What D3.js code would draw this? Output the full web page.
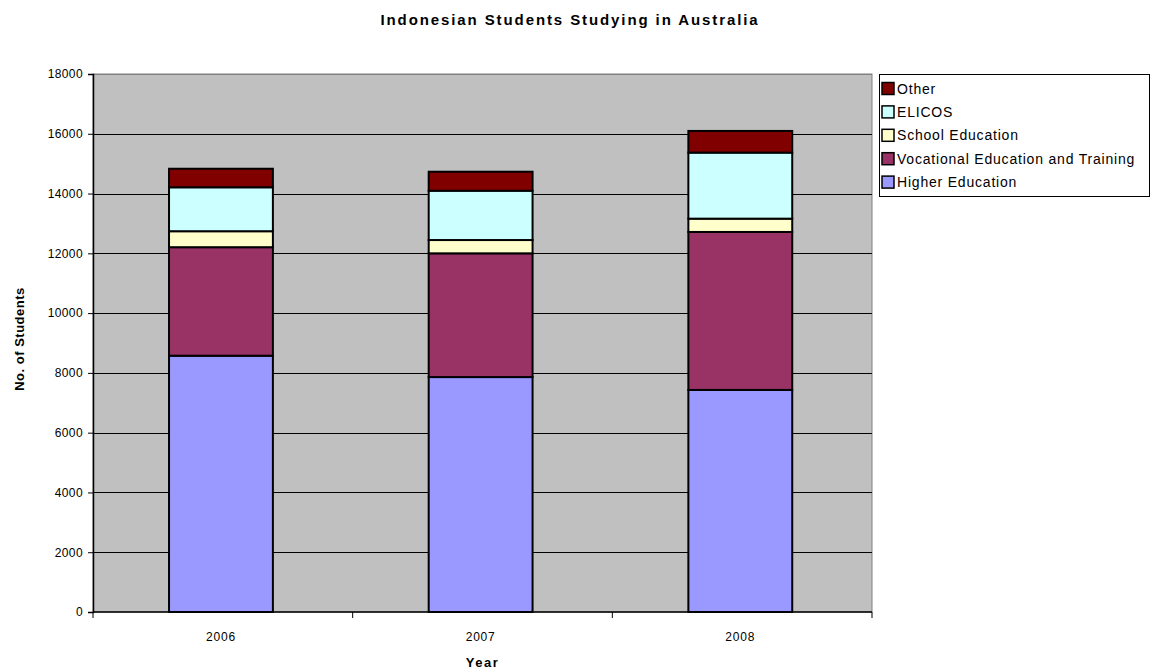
<!DOCTYPE html>
<html>
  <head>
    <meta charset="utf-8">
    <script src="https://d3js.org/d3.v7.min.js"></script>
    <style>
      body { margin: 0; background: #fff; }
      text { font-family: 'Liberation Sans', Arial, sans-serif; fill: #000; }
    </style>
    <title>Indonesian Students Studying in Australia</title>
  </head>
  <body>
    <svg></svg>
    <script type="text/javascript">
      const years = ['2006', '2007', '2008']
      const seriesNames = ['Higher Education', 'Vocational Education and Training', 'School Education', 'ELICOS', 'Other']
      const higherEducation = [8575, 7860, 7430]
      const vocational = [3630, 4140, 5285]
      const schoolEducation = [535, 445, 445]
      const elicos = [1470, 1650, 2210]
      const other = [620, 635, 725]
      const yTicks = [0, 2000, 4000, 6000, 8000, 10000, 12000, 14000, 16000, 18000]
      const colors = ['#9999ff', '#993366', '#ffffcc', '#ccffff', '#800000']

      const width = 1151
      const height = 670
      const margin = {top: 74, right: 279, bottom: 58, left: 93}
      const innerW = width - margin.left - margin.right
      const innerH = height - margin.top - margin.bottom

      const table = years.map((y, i) => ({
        year: y,
        'Higher Education': higherEducation[i],
        'Vocational Education and Training': vocational[i],
        'School Education': schoolEducation[i],
        'ELICOS': elicos[i],
        'Other': other[i]
      }))
      const stacked = d3.stack().keys(seriesNames)(table)

      const svg = d3.select('svg')
        .attr('width', width)
        .attr('height', height)

      const x = d3.scaleBand()
        .domain(years)
        .range([0, innerW])
        .paddingInner(0.6)
        .paddingOuter(0.3)
        .align(0.488)

      const y = d3.scaleLinear()
        .domain([0, 18000])
        .range([innerH, 0])

      const g = svg.append('g')
        .attr('transform', `translate(${margin.left},${margin.top})`)

      g.append('rect')
        .attr('width', innerW)
        .attr('height', innerH)
        .attr('fill', '#c0c0c0')
        .attr('stroke', '#808080')
        .attr('stroke-width', 1)

      g.selectAll('.grid')
        .data(yTicks.slice(1))
        .enter()
        .append('line')
          .attr('class', 'grid')
          .attr('x1', 0)
          .attr('x2', innerW)
          .attr('y1', d => Math.round(y(d)) + 0.5)
          .attr('y2', d => Math.round(y(d)) + 0.5)
          .attr('stroke', d => d === 18000 ? '#808080' : '#000')
          .attr('stroke-width', 1)

      g.selectAll('.layer')
        .data(stacked)
        .enter()
        .append('g')
          .attr('class', 'layer')
          .attr('fill', (d, i) => colors[i])
        .selectAll('rect')
        .data(d => d)
        .enter()
        .append('rect')
          .attr('x', d => x(d.data.year))
          .attr('y', d => y(d[1]))
          .attr('width', x.bandwidth())
          .attr('height', d => y(d[0]) - y(d[1]))
          .attr('stroke', '#000')
          .attr('stroke-width', 2)

      // y axis
      const yAxis = g.append('g')
        .call(d3.axisLeft(y).tickValues(yTicks).tickSize(5).tickPadding(5).tickFormat(d3.format('d')))
      yAxis.select('.domain').attr('stroke', '#000').attr('stroke-width', 1.5)
      yAxis.selectAll('text')
        .style('font-size', '12px')
        .style('letter-spacing', '0.4px')
        .attr('font-family', 'Liberation Sans, Arial, sans-serif')

      // x axis, ticks sit between the categories
      const xAxis = g.append('g')
        .attr('transform', `translate(0,${innerH})`)
      xAxis.append('line')
        .attr('x1', 0).attr('x2', innerW)
        .attr('y1', 0).attr('y2', 0)
        .attr('stroke', '#000').attr('stroke-width', 1.5)
      const step = innerW / years.length
      xAxis.selectAll('.xtick')
        .data(d3.range(years.length + 1))
        .enter()
        .append('line')
          .attr('class', 'xtick')
          .attr('x1', d => d * step).attr('x2', d => d * step)
          .attr('y1', 0).attr('y2', 6)
          .attr('stroke', '#000')
      xAxis.selectAll('.xlabel')
        .data(years)
        .enter()
        .append('text')
          .attr('class', 'xlabel')
          .attr('x', d => x(d) + x.bandwidth() / 2)
          .attr('y', 29)
          .attr('text-anchor', 'middle')
          .style('font-size', '12px')
          .style('letter-spacing', '0.8px')
          .text(d => d)

      // titles
      svg.append('text')
        .attr('x', 570)
        .attr('y', 25)
        .attr('text-anchor', 'middle')
        .style('font-size', '15px')
        .style('font-weight', 'bold')
        .style('letter-spacing', '1.9px')
        .text('Indonesian Students Studying in Australia')

      svg.append('text')
        .attr('x', margin.left + innerW / 2)
        .attr('y', 667)
        .attr('text-anchor', 'middle')
        .style('font-size', '13px')
        .style('font-weight', 'bold')
        .style('letter-spacing', '1.5px')
        .text('Year')

      svg.append('text')
        .attr('transform', `translate(24,${margin.top + innerH / 2 - 4}) rotate(-90)`)
        .attr('text-anchor', 'middle')
        .style('font-size', '13px')
        .style('font-weight', 'bold')
        .style('letter-spacing', '0.5px')
        .text('No. of Students')

      // legend
      const legend = svg.append('g')
        .attr('transform', 'translate(879,74)')
      legend.append('rect')
        .attr('x', 0.5).attr('y', 0.5)
        .attr('width', 270).attr('height', 122)
        .attr('fill', '#fff')
        .attr('stroke', '#000')
      const legendItems = seriesNames.map((n, i) => ({name: n, color: colors[i]})).reverse()
      const item = legend.selectAll('.item')
        .data(legendItems)
        .enter()
        .append('g')
          .attr('class', 'item')
          .attr('transform', (d, i) => `translate(3,${8.5 + i * 23.4})`)
      item.append('rect')
        .attr('width', 12).attr('height', 12)
        .attr('fill', d => d.color)
        .attr('stroke', '#000')
        .attr('stroke-width', 1.5)
      item.append('text')
        .attr('x', 15)
        .attr('y', 11)
        .style('font-size', '14px')
        .style('letter-spacing', '0.8px')
        .text(d => d.name)
    </script>
  </body>
</html>
